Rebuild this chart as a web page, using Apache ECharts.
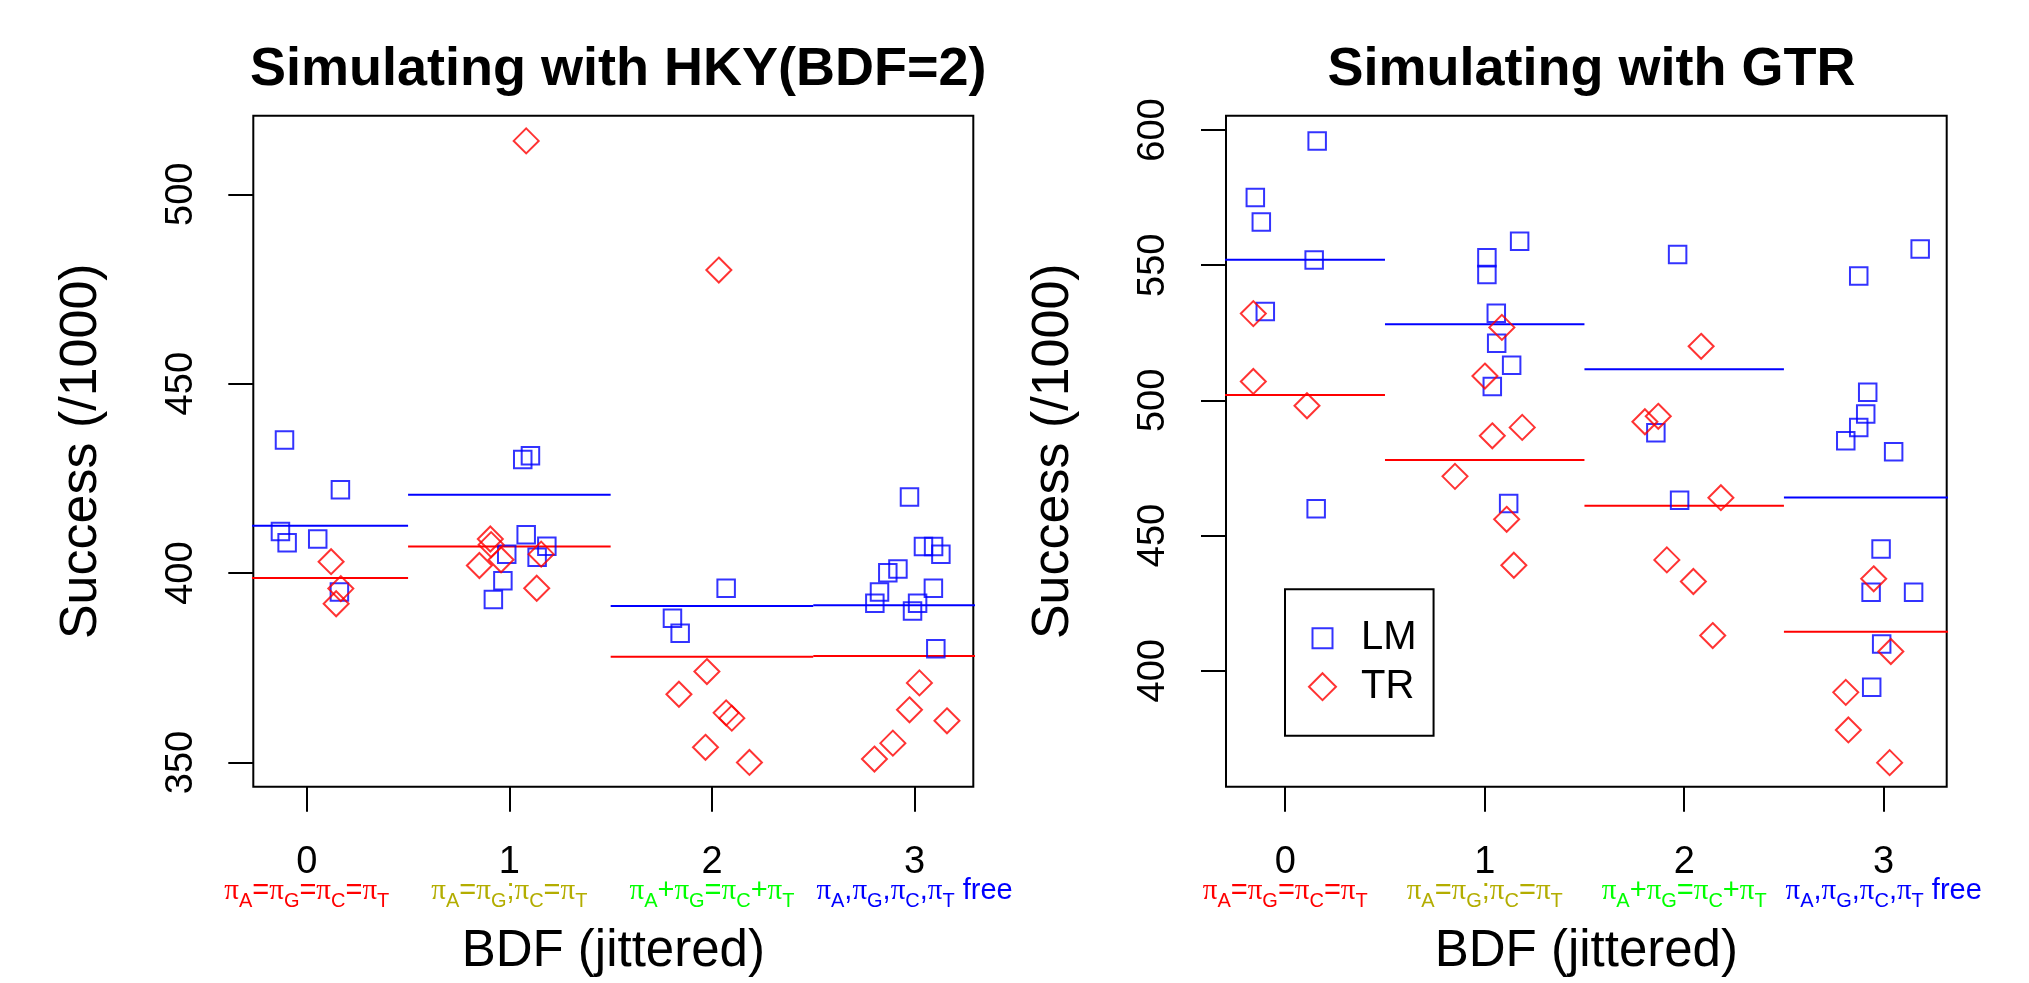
<!DOCTYPE html>
<html><head><meta charset="utf-8">
<script src="https://cdn.jsdelivr.net/npm/echarts@6/dist/echarts.min.js"></script>
<style>html,body{margin:0;padding:0;background:#fff}#c{width:2029px;height:983px}</style>
</head><body><div id="c"></div>
<script>
// ---- data ----
const categories = [0, 1, 2, 3];
const tickLabelParts = ['π_A=π_G=π_C=π_T', 'π_A=π_G;π_C=π_T', 'π_A+π_G=π_C+π_T', 'π_A,π_G,π_C,π_T free'];
const tickLabelColors = ['#ff0000', '#b3ad00', '#00ff00', '#0000ff'];
const hkyTicksY = [350, 400, 450, 500];
const gtrTicksY = [400, 450, 500, 550, 600];
const titles = ['Simulating with HKY(BDF=2)', 'Simulating with GTR'];
const xTitle = 'BDF (jittered)';
const yTitle = 'Success (/1000)';
const seriesNames = ['LM', 'TR'];

const hkyLmX = [-0.11, 0.166, -0.13, -0.097, 0.054, 0.161,
  1.066, 1.104, 1.083, 0.987, 1.185, 1.137, 0.968, 0.921,
  2.07, 1.805, 1.843,
  2.975, 3.044, 3.094, 3.13, 2.918, 2.868, 2.827, 2.804, 3.093, 3.015, 2.99, 3.105];
const hkyLmY = [435.1, 422.0, 411.0, 408.0, 409.0, 395.0,
  430.0, 431.0, 410.1, 405.0, 407.1, 404.2, 398.0, 393.0,
  396.0, 388.1, 384.1,
  420.1, 407.0, 407.0, 405.0, 401.1, 400.1, 395.0, 392.0, 396.0, 392.0, 390.0, 380.0];
const hkyTrX = [0.12, 0.168, 0.145,
  1.083, 0.906, 0.91, 0.959, 0.852, 1.157, 1.135,
  2.034, 1.975, 1.837, 2.07, 2.098, 1.968, 2.185,
  3.024, 2.975, 3.16, 2.893, 2.802];
const hkyTrY = [403.0, 395.9, 391.9,
  514.1, 409.0, 407.5, 403.5, 402.0, 405.0, 396.0,
  480.0, 374.0, 368.0, 363.1, 361.7, 354.0, 350.0,
  371.0, 363.9, 361.0, 355.1, 350.9];
const hkyLmMean = [412.5, 420.7, 391.3, 391.5];
const hkyTrMean = [398.7, 407.0, 377.9, 378.1];

const gtrLmX = [0.16, -0.15, -0.12, 0.145, -0.10, 0.155,
  1.175, 1.011, 1.011, 1.058, 1.06, 1.135, 1.038, 1.12,
  1.967, 1.858, 1.977,
  3.183, 2.875, 2.92, 2.91, 2.875, 2.81, 3.05, 2.987, 2.937, 3.15, 2.99, 2.94];
const gtrLmY = [595.9, 575.0, 566.0, 551.9, 532.9, 459.9,
  558.9, 552.8, 546.6, 532.2, 521.1, 513.0, 505.1, 461.9,
  554.0, 488.0, 463.1,
  556.0, 546.0, 503.0, 495.0, 490.0, 485.1, 481.0, 445.0, 429.0, 429.0, 409.9, 393.9];
const gtrTrX = [-0.16, -0.16, 0.109,
  1.086, 1.001, 1.038, 1.188, 0.851, 1.11, 1.146,
  2.085, 1.803, 1.87, 2.184, 1.913, 2.046, 2.143,
  2.95, 3.036, 2.81, 2.823, 3.03];
const gtrTrY = [532.1, 507.0, 498.0,
  527.0, 509.0, 486.9, 490.0, 471.9, 456.0, 439.0,
  520.0, 492.1, 494.1, 464.0, 441.0, 433.0, 413.0,
  434.0, 407.1, 392.0, 378.1, 366.0];
const gtrLmMean = [552.0, 528.2, 511.5, 464.1];
const gtrTrMean = [502.0, 477.9, 461.0, 414.4];

// ---- helpers ----
const SANS = 'Liberation Sans, Arial, Helvetica, sans-serif';
const SERIF = 'Liberation Serif, Times New Roman, serif';
const BLUE = '#0000ff', RED = '#ff0000';

function zip(xs, ys) { return xs.map((x, i) => [x, ys[i]]); }

function buildRich() {
  const rich = {
    n: { fontSize: 38, fontFamily: SANS, color: '#000', lineHeight: 28 }
  };
  tickLabelColors.forEach((c, i) => {
    rich['p' + i] = { fontSize: 29, fontFamily: SERIF, color: c, verticalAlign: 'bottom', padding: [0, 0, 6, 0] };
    rich['t' + i] = { fontSize: 29, fontFamily: SANS, color: c, verticalAlign: 'bottom', padding: [0, 0, 6, 0] };
    rich['s' + i] = { fontSize: 20, fontFamily: SANS, color: c, verticalAlign: 'bottom', lineHeight: 20 };
  });
  return rich;
}
function labelMarkup(i) {
  const s = tickLabelParts[i];
  let out = '', run = '';
  const flush = () => { if (run) { out += '{t' + i + '|' + run + '}'; run = ''; } };
  for (let k = 0; k < s.length; k++) {
    const ch = s[k];
    if (ch === 'π') { flush(); out += '{p' + i + '|π}'; }
    else if (ch === '_') { flush(); out += '{s' + i + '|' + s[k + 1] + '}'; k++; }
    else run += ch;
  }
  flush();
  return out;
}
const rich = buildRich();

function xAxis(gridIndex, min, max) {
  return {
    type: 'value', gridIndex, min, max,
    name: xTitle, nameLocation: 'middle', nameGap: 140,
    nameTextStyle: { fontSize: 51, fontFamily: SANS, color: '#000' },
    axisLine: { show: false, onZero: false },
    splitLine: { show: false },
    axisTick: { show: true, length: 25, customValues: categories, lineStyle: { color: '#000', width: 2 } },
    axisLabel: {
      show: true, customValues: categories, margin: 62,
      formatter: v => '{n|' + v + '}\n' + labelMarkup(categories.indexOf(v)),
      rich
    }
  };
}
function yAxis(gridIndex, min, max, ticks) {
  return {
    type: 'value', gridIndex, min, max,
    name: yTitle, nameLocation: 'middle', nameGap: 146, nameRotate: 90,
    nameTextStyle: { fontSize: 52, fontFamily: SANS, color: '#000' },
    axisLine: { show: false, onZero: false },
    splitLine: { show: false },
    axisTick: { show: true, length: 25, customValues: ticks, lineStyle: { color: '#000', width: 2 } },
    axisLabel: { show: true, customValues: ticks, rotate: 90, margin: 53, fontSize: 38, fontFamily: SANS, color: '#000' }
  };
}
function scatter(name, idx, xs, ys) {
  const lm = name === 'LM';
  return {
    type: 'scatter', name, xAxisIndex: idx, yAxisIndex: idx,
    data: zip(xs, ys),
    symbol: lm ? 'rect' : 'diamond', symbolSize: lm ? 17.5 : 25,
    itemStyle: { color: 'rgba(0,0,0,0)', borderColor: lm ? BLUE : RED, borderWidth: 2 },
    z: 3, silent: true
  };
}
function meanLines(name, idx, means) {
  const color = name === 'LM' ? BLUE : RED;
  return categories.map((g, i) => ({
    type: 'line', name, xAxisIndex: idx, yAxisIndex: idx,
    data: [[g - 0.5, means[i]], [g + 0.5, means[i]]],
    symbol: 'none', clip: true, silent: true,
    lineStyle: { color, width: 2 }, itemStyle: { color }, z: 2
  }));
}

const option = {
  animation: false,
  backgroundColor: '#fff',
  title: [
    { text: titles[0], left: 613.3, top: 38, textAlign: 'center',
      textStyle: { fontSize: 54, fontWeight: 'bold', fontFamily: SANS, color: '#000' } },
    { text: titles[1], left: 1586.4, top: 38, textAlign: 'center',
      textStyle: { fontSize: 54, fontWeight: 'bold', fontFamily: SANS, color: '#000' } }
  ],
  grid: [
    { left: 253.3, top: 115.7, width: 720, height: 671, show: true, borderColor: '#000', borderWidth: 2, backgroundColor: 'transparent' },
    { left: 1226, top: 115.7, width: 720.7, height: 671, show: true, borderColor: '#000', borderWidth: 2, backgroundColor: 'transparent' }
  ],
  legend: {
    data: [
      { name: seriesNames[0], icon: 'path://M0,0M27,27M3.5,3.5L23.5,3.5L23.5,23.5L3.5,23.5Z',
        itemStyle: { color: 'rgba(0,0,0,0)', borderColor: BLUE, borderWidth: 2 } },
      { name: seriesNames[1] }
    ],
    orient: 'vertical', left: 1285, top: 589.3,
    itemWidth: 27, itemHeight: 27, itemGap: 8.4,
    padding: [29, 17, 29, 23],
    borderColor: '#000', borderWidth: 2, backgroundColor: '#fff',
    selectedMode: false,
    textStyle: { fontSize: 40, fontFamily: SANS, color: '#000', padding: [0, 0, 0, 20] }
  },
  xAxis: [xAxis(0, -0.264, 3.29), xAxis(1, -0.297, 3.316)],
  yAxis: [yAxis(0, 343.6, 520.75, hkyTicksY), yAxis(1, 357.1, 605.3, gtrTicksY)],
  series: [
    scatter('LM', 0, hkyLmX, hkyLmY),
    scatter('TR', 0, hkyTrX, hkyTrY),
    ...meanLines('LM', 0, hkyLmMean),
    ...meanLines('TR', 0, hkyTrMean),
    scatter('LM', 1, gtrLmX, gtrLmY),
    scatter('TR', 1, gtrTrX, gtrTrY),
    ...meanLines('LM', 1, gtrLmMean),
    ...meanLines('TR', 1, gtrTrMean)
  ]
};
const chart = echarts.init(document.getElementById('c'), null, { renderer: 'canvas' });
chart.setOption(option);
</script>
</body></html>
